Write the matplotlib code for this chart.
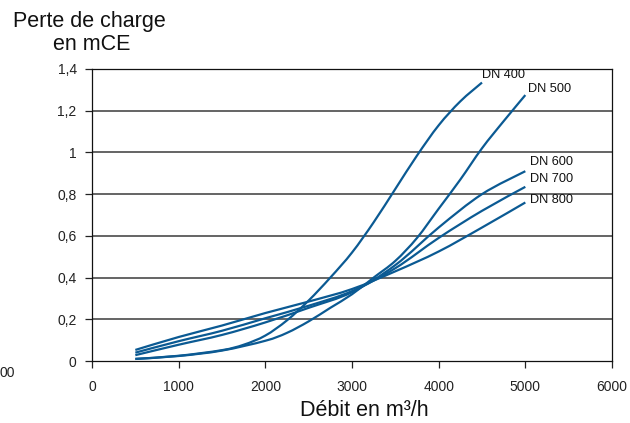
import matplotlib

matplotlib.use("Agg")
import matplotlib.pyplot as plt
from matplotlib.path import Path
from matplotlib.patches import PathPatch

plt.rcParams["font.family"] = ["Liberation Sans", "DejaVu Sans"]

# Head loss (mCE) vs flow (m3/h)
q_400 = [500, 1000, 1500, 1750, 2000, 2250, 2500, 2750, 3000, 3250, 3500, 3750, 4000, 4250, 4500]
h_400 = [0.01, 0.025, 0.052, 0.078, 0.122, 0.195, 0.29, 0.40, 0.52, 0.665, 0.825, 0.985, 1.13, 1.245, 1.335]

q_500 = [500, 1000, 1500, 2000, 2250, 2500, 2750, 3000, 3250, 3500, 3750, 4000, 4250, 4500, 4750, 5000]
h_500 = [0.01, 0.024, 0.05, 0.097, 0.135, 0.19, 0.255, 0.32, 0.40, 0.48, 0.59, 0.73, 0.87, 1.02, 1.15, 1.275]

q_big = [500, 1000, 1500, 2000, 2500, 3000, 3500, 4000, 4500, 5000]
h_600 = [0.028, 0.078, 0.125, 0.185, 0.255, 0.33, 0.46, 0.64, 0.80, 0.91]
h_700 = [0.04, 0.095, 0.145, 0.205, 0.265, 0.335, 0.445, 0.59, 0.72, 0.835]
h_800 = [0.053, 0.115, 0.17, 0.23, 0.285, 0.345, 0.43, 0.525, 0.64, 0.76]

labels = ["DN 400", "DN 500", "DN 600", "DN 700", "DN 800"]
x_ticks = [0, 1000, 2000, 3000, 4000, 5000, 6000]
y_ticks = [0, 0.2, 0.4, 0.6, 0.8, 1.0, 1.2, 1.4]
y_ticklabels = ["0", "0,2", "0,4", "0,6", "0,8", "1", "1,2", "1,4"]

BLUE = "#0b5a93"


def smooth_path(xs, ys):
    """Catmull-Rom through the points, drawn as cubic Bezier segments."""
    pts = list(zip(xs, ys))
    verts = [pts[0]]
    codes = [Path.MOVETO]
    n = len(pts)
    for i in range(n - 1):
        p0 = pts[max(i - 1, 0)]
        p1 = pts[i]
        p2 = pts[i + 1]
        p3 = pts[min(i + 2, n - 1)]
        c1 = (p1[0] + (p2[0] - p0[0]) / 6, p1[1] + (p2[1] - p0[1]) / 6)
        c2 = (p2[0] - (p3[0] - p1[0]) / 6, p2[1] - (p3[1] - p1[1]) / 6)
        verts += [c1, c2, p2]
        codes += [Path.CURVE4] * 3
    return Path(verts, codes)


fig = plt.figure(figsize=(6.3, 4.23), dpi=100)
ax = fig.add_axes([92 / 630, 62 / 423, 520 / 630, 292 / 423])

series = [(q_400, h_400), (q_500, h_500), (q_big, h_600), (q_big, h_700), (q_big, h_800)]
# label offsets (pixels) from the end of each curve
offsets = [(0, 8), (3, 6), (5, 9), (5, 8), (5, 2)]
for (q, h), lab, off in zip(series, labels, offsets):
    ax.add_patch(PathPatch(smooth_path(q, h), facecolor="none", edgecolor=BLUE,
                           lw=1.6, capstyle="butt", zorder=3))
    ax.annotate(lab, xy=(q[-1], h[-1]), xytext=off, textcoords="offset pixels",
                ha="left", va="center", fontsize=9.2, color="#111111")

ax.set_xlim(0, 6000)
ax.set_ylim(0, 1.4)
ax.set_xticks(x_ticks)
ax.set_yticks(y_ticks)
ax.set_yticklabels(y_ticklabels)
for y in y_ticks[1:-1]:
    ax.axhline(y, color="#4a4a4a", lw=1.2, zorder=1)

for s in ax.spines.values():
    s.set_color("#111111")
    s.set_linewidth(0.9)
ax.tick_params(axis="x", direction="out", length=5, width=0.9, pad=9,
               labelsize=10, colors="#222222")
ax.tick_params(axis="y", direction="out", length=5, width=0.9, pad=6,
               labelsize=10, colors="#222222")

fig.text(89 / 630, 1 - 22 / 423, "Perte de charge", ha="center", va="center",
         fontsize=15.5, color="#111111")
fig.text(92 / 630, 1 - 45 / 423, "en mCE", ha="center", va="center",
         fontsize=15.5, color="#111111")
fig.text(364 / 630, 1 - 410 / 423, "Débit en m³/h", ha="center", va="center",
         fontsize=15.5, color="#111111")
fig.text(0.0, 1 - 373 / 423, "00", ha="left", va="center", fontsize=10,
         color="#222222")

fig.savefig("out.png", dpi=100)
